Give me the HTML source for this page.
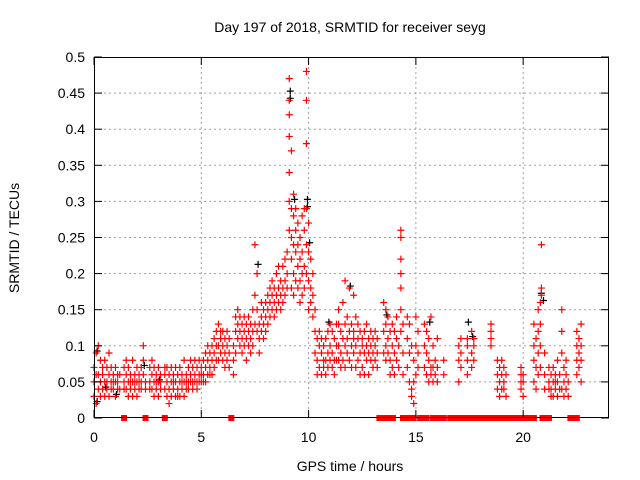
<!DOCTYPE html>
<html><head><meta charset="utf-8"><style>
html,body{margin:0;padding:0;background:#fff;}
svg{display:block;font-family:"Liberation Sans",sans-serif;}
</style></head><body>
<svg id="chart" width="640" height="480" viewBox="0 0 640 480" xmlns="http://www.w3.org/2000/svg">
<rect width="640" height="480" fill="#fff"/>
<text x="350" y="32" font-size="14" text-anchor="middle">Day 197 of 2018, SRMTID for receiver seyg</text>
<text x="350" y="471" font-size="14" text-anchor="middle">GPS time / hours</text>
<text x="0" y="0" font-size="14" text-anchor="middle" transform="translate(19,238) rotate(-90)">SRMTID / TECUs</text>
<g id="grid"></g><g id="marks"></g><g id="axes"></g>
</svg>
<script>
const xTicks=[0,5,10,15,20];
const yTicks=[0,0.05,0.1,0.15,0.2,0.25,0.3,0.35,0.4,0.45,0.5];
const yTickLabels=["0","0.05","0.1","0.15","0.2","0.25","0.3","0.35","0.4","0.45","0.5"];
const groupTimes=[0,0.1,0.2,0.3,0.4,0.5,0.6,0.7,0.8,0.9,1.0,1.1,1.2,1.4,1.5,1.6,1.7,1.8,1.9,2.0,2.1,2.2,2.3,2.4,2.6,2.7,2.8,2.9,3.0,3.1,3.3,3.4,3.5,3.6,3.7,3.8,3.9,4.0,4.1,4.2,4.3,4.4,4.5,4.6,4.7,4.8,4.9,5.0,5.1,5.2,5.3,5.4,5.5,5.6,5.7,5.8,5.9,6.0,6.1,6.2,6.3,6.5,6.6,6.7,6.8,6.9,7.0,7.1,7.2,7.3,7.4,7.5,7.6,7.7,7.8,7.9,8.0,8.1,8.2,8.3,8.4,8.5,8.6,8.7,8.8,8.9,9.0,9.1,9.2,9.3,9.4,9.5,9.6,9.7,9.8,9.9,10.0,10.1,10.2,10.3,10.4,10.5,10.6,10.7,10.8,10.9,11.0,11.1,11.2,11.3,11.4,11.5,11.6,11.7,11.8,11.9,12.0,12.1,12.2,12.3,12.4,12.5,12.6,12.7,12.8,12.9,13.0,13.1,13.2,13.5,13.6,13.7,13.8,13.9,14.0,14.1,14.2,14.3,14.4,14.6,14.7,14.8,14.9,15.0,15.1,15.4,15.5,15.6,15.7,15.8,15.9,16.0,16.3,17.0,17.1,17.4,17.6,17.7,18.5,18.8,18.9,19.0,19.1,19.2,19.9,20.0,20.5,20.6,20.7,20.8,20.85,21.0,21.2,21.3,21.4,21.5,21.6,21.7,21.8,21.9,22.0,22.1,22.5,22.6,22.7];
const groupValues=[[.05,.03,.07],[.06,.02,.09],[.10,.04,.06],[.05,.08,.03],[.06,.04,.07],[.05,.03,.08],[.07,.05,.04],[.06,.09,.03],[.05,.07,.04],[.06,.04,.05],[.05,.07,.03],[.06,.04,.05],[.04,.06],[.05,.07,.04],[.06,.04,.08],[.05,.03,.07],[.06,.04,.05],[.08,.05,.03],[.06,.04,.05],[.07,.05,.03],[.05,.04,.06],[.07,.05,.04],[.08,.06,.10],[.05,.04],[.05,.07,.04],[.06,.04,.08],[.05,.07,.03],[.06,.04,.05],[.07,.05,.03],[.05,.06,.04],[.06,.04,.07],[.05,.03,.07],[.06,.04,.02],[.05,.07,.03],[.06,.04,.05],[.07,.03,.05],[.04,.06,.03],[.05,.03,.07],[.06,.04,.05],[.05,.03,.08],[.06,.04,.05],[.05,.07,.04],[.06,.05,.08],[.07,.05,.04],[.06,.08,.05],[.05,.07,.04],[.06,.08,.05],[.07,.05,.06],[.08,.06,.05],[.07,.09,.05],[.08,.06,.10],[.09,.07,.06],[.10,.08,.06],[.09,.11,.07],[.12,.08,.10],[.13,.10,.08],[.12,.09,.11],[.10,.08,.12],[.11,.09,.07],[.10,.08,.12],[.09,.07,.11],[.08,.06,.10],[.12,.14,.09],[.13,.11,.15],[.12,.10,.14],[.11,.13,.09],[.12,.10,.14],[.13,.11,.08],[.12,.14,.10],[.11,.13,.09],[.15,.12,.10],[.17,.13,.24],[.20,.12,.15],[.13,.11,.09],[.14,.12,.16],[.13,.15,.11],[.16,.12,.14],[.15,.13,.17],[.18,.14,.16],[.17,.15,.19],[.16,.18,.14],[.20,.17,.15],[.18,.16,.21],[.19,.17,.15],[.21,.18,.16],[.19,.17,.22],[.23,.18,.20],[.47,.44,.42,.39,.34,.30,.26],[.29,.25,.22,.18,.37],[.31,.28,.24,.20,.17],[.29,.26,.23,.19],[.27,.24,.21,.18],[.25,.22,.19,.16],[.28,.23,.20,.17],[.29,.26,.21,.18],[.48,.44,.38,.29,.24,.20],[.27,.23,.19,.15],[.22,.18,.16],[.20,.17,.14],[.15,.12,.09],[.11,.08,.06],[.10,.07,.12],[.09,.06,.11],[.08,.10,.07],[.11,.08,.06],[.09,.12,.07],[.10,.08,.13],[.09,.07,.12],[.08,.11,.06],[.10,.13,.08],[.10,.13,.08,.15],[.12,.09,.07],[.16,.11,.08],[.13,.10,.07,.19],[.11,.09,.14],[.18,.12,.08],[.10,.13,.07],[.12,.09,.11,.17],[.14,.10,.07],[.11,.13,.08],[.09,.12,.06],[.10,.07,.11],[.12,.09,.06],[.13,.10,.08],[.09,.11,.06],[.10,.08,.12],[.11,.09,.07],[.10,.08,.12],[.09,.11,.07],[.16,.12,.09],[.13,.10,.08,.15],[.11,.09,.14],[.12,.08,.06],[.10,.07,.13],[.09,.12,.06],[.11,.08,.14],[.10,.07],[.26,.25,.22,.20,.18,.15,.12],[.13,.09,.06],[.11,.07,.14],[.13,.09,.05],[.10,.03,.04],[.08,.05,.02],[.14,.10,.06],[.09,.12,.07],[.13,.10,.07],[.09,.06,.12],[.11,.08,.05],[.07,.14,.06],[.10,.07,.05],[.08,.06],[.11,.07,.05],[.08,.06],[.10,.08,.05],[.09,.07,.11],[.10,.08,.06,.11],[.12,.09,.07],[.11,.08,.10],[.13,.12,.11,.10],[.08,.06,.04],[.07,.05,.03],[.06,.04,.08],[.07,.05,.04],[.06,.03],[.07,.06,.05,.04],[.06,.05,.03],[.10,.13,.08,.05],[.11,.07,.04],[.15,.12,.09,.06],[.16,.13,.10,.07],[.24,.18,.17],[.09,.06,.04],[.07,.05,.04],[.06,.04,.03],[.07,.05,.03],[.05,.04,.06],[.08,.05,.03],[.06,.04],[.15,.12,.09,.04],[.07,.05,.03],[.06,.04,.08],[.05,.03],[.12,.10,.08,.06],[.11,.09,.07],[.13,.08,.10,.05]];
const blackTimes=[0.1,0.5,2.3,3.0,7.6,9.1,9.1,9.3,9.9,9.9,10.0,10.9,11.9,13.6,15.6,17.4,17.6,20.8,20.9,0.1,1.0];
const blackValues=[0.09,0.04,0.07,0.05,0.21,0.45,0.44,0.30,0.30,0.29,0.24,0.13,0.18,0.14,0.13,0.13,0.11,0.17,0.16,0.02,0.03];
const zeroTimes=[1.4,2.4,3.3,6.4,13.3,13.4,13.5,13.6,13.85,13.93,14.4,14.5,14.6,14.7,14.8,14.9,15.2,15.3,15.4,15.5,15.8,15.9,16.0,16.2,16.3,16.6,16.7,16.8,16.9,17.0,17.1,17.2,17.3,17.4,17.5,17.7,17.8,17.9,18.0,18.1,18.2,18.3,18.5,18.6,18.8,18.9,19.0,19.1,19.3,19.4,19.5,19.6,19.7,19.8,19.9,20.0,20.2,20.3,20.4,20.5,20.9,21.0,21.1,21.2,22.2,22.3,22.4,22.5];

const L=94,R=609,T=57,B=418,XMAX=24,YMAX=0.5;
const xs=h=>L+(h/XMAX)*(R-L);
const ys=v=>B-(v/YMAX)*(B-T);
const NS="http://www.w3.org/2000/svg";
function mk(tag,attrs,parent){const e=document.createElementNS(NS,tag);for(const k in attrs)e.setAttribute(k,attrs[k]);parent.appendChild(e);return e;}
const grid=document.getElementById('grid'),marks=document.getElementById('marks'),axes=document.getElementById('axes');
yTicks.forEach((v,i)=>{const y=ys(v);
 if(i>0&&i<yTicks.length-1){const g=mk('line',{x1:L,x2:R,y1:y,y2:y,stroke:'#a0a0a0','stroke-dasharray':'2,3','stroke-width':1},grid);
 
 }
 mk('line',{x1:L,x2:L+8,y1:y,y2:y,stroke:'#000'},axes);
 mk('line',{x1:R-8,x2:R,y1:y,y2:y,stroke:'#000'},axes);
 const t=mk('text',{x:L-9,y:y+5,'font-size':14,'text-anchor':'end'},axes);t.textContent=yTickLabels[i];
 
 
});
xTicks.forEach(h=>{const x=xs(h);
 if(h>0){const g=mk('line',{x1:x,x2:x,y1:T,y2:B,stroke:'#a0a0a0','stroke-dasharray':'2,3','stroke-width':1},grid);
 
 }
 mk('line',{x1:x,x2:x,y1:B,y2:B-8,stroke:'#000'},axes);
 mk('line',{x1:x,x2:x,y1:T,y2:T+8,stroke:'#000'},axes);
 const t=mk('text',{x:x,y:B+24,'font-size':14,'text-anchor':'middle'},axes);t.textContent=String(h);
 
 
});
const frame=mk('rect',{x:L+0.5,y:T+0.5,width:R-L-1,height:B-T-1,fill:'none',stroke:'#000','stroke-width':1},axes);


function plus(x,y,col,name){const p=mk('path',{d:`M${x-3.5},${y}h7M${x},${y-3.5}v7`,stroke:col,'stroke-width':1.2,fill:'none'},marks);
 
 }
blackTimes.forEach((h,i)=>plus(xs(h)+1,ys(blackValues[i])-2,'#000','black-point'));
groupTimes.forEach((h,i)=>groupValues[i].forEach(v=>plus(xs(h),ys(v),'#ff0000','red-point')));
zeroTimes.forEach(h=>{const r=mk('rect',{x:xs(h)-3,y:B-3,width:6,height:6,fill:'#ff0000'},marks);
 
 });
</script>
</body></html>
